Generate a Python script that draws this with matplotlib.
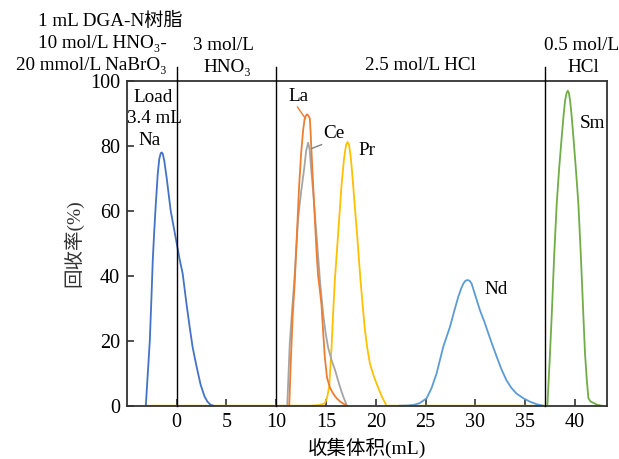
import matplotlib
matplotlib.use("Agg")
import matplotlib.pyplot as plt

plt.rcParams['font.family'] = ['Liberation Serif', 'Noto Sans CJK SC', 'DejaVu Sans']

# ---- data ----
na_x = [-3.1, -2.9, -2.7, -2.55, -2.4, -2.25, -2.1, -1.9, -1.75, -1.6, -1.5, -1.4, -1.25, -1.0, -0.8,
        -0.6, -0.3, 0.0, 0.3, 0.6, 1.0, 1.3, 1.6, 2.0, 2.4, 2.8, 3.1, 3.4, 3.7]
na_y = [0, 10, 20, 32, 45, 54, 62, 71.5, 76, 77.8, 78, 77.6, 75.5, 70, 65,
        60, 55, 50, 45, 40.7, 31, 24.3, 18, 12, 6.5, 2.8, 1.2, 0.3, 0]

la_x = [11.3, 11.45, 11.65, 11.85, 12.0, 12.15, 12.3, 12.5, 12.7, 12.85, 13.0, 13.1, 13.22, 13.37,
        13.45, 13.54, 13.7, 13.87, 14.05, 14.2, 14.38, 14.54, 14.7, 14.87, 15.1, 15.4, 15.7, 16.0,
        16.4, 17.05]
la_y = [0, 13, 28, 38, 48, 58, 68, 78, 85, 88.4, 89.5, 89.7, 89.4, 88.4,
        84, 78, 68, 57.7, 47, 40, 35.5, 31, 23, 15, 8.5, 5.5, 3.8, 2.5,
        1.3, 0]

ce_x = [11.1, 11.35, 11.6, 11.8, 12.0, 12.2, 12.5, 12.8, 13.0, 13.2, 13.35, 13.5, 13.7, 13.9, 14.15,
        14.4, 14.7, 14.95, 15.2, 15.55, 15.9, 16.2, 16.5, 16.8, 17.1]
ce_y = [0, 19, 30, 38, 48, 58, 66, 73, 78.5, 81, 79, 73, 66, 58, 48,
        38, 28.4, 22.5, 18, 14, 11, 7.8, 4.8, 2.2, 0]

pr_x = [-3.1, 13.4, 14.3, 14.87, 15.1, 15.31, 15.55, 15.7, 15.88, 16.05, 16.2, 16.55, 16.8, 17.0,
        17.15, 17.3, 17.5, 17.72, 17.92, 18.12, 18.3, 18.46, 18.7, 18.9, 19.15, 19.4, 19.8, 20.2,
        20.6, 21.07, 37.0]
pr_y = [0, 0, 0.2, 0.7, 2.5, 5.8, 18, 28, 38.6, 46, 52.5, 67.9, 76, 80.2,
        81.2, 80.5, 76, 67.9, 60, 52.5, 45, 38.6, 30, 23.3, 17.5, 13, 9, 5.8,
        2.8, 0, 0]

nd_x = [22.4, 23.1, 23.75, 24.4, 25.1, 25.6, 26.1, 26.77, 27.44, 27.9, 28.27, 28.55, 28.8, 29.0,
        29.2, 29.4, 29.6, 30.0, 30.45, 30.9, 31.29, 31.7, 32.13, 32.6, 33.1, 33.6, 34.1, 34.8,
        35.5, 36.2, 36.8]
nd_y = [0, 0.05, 0.2, 0.8, 2.3, 5.5, 10, 18.2, 24.3, 29.5, 33.5, 36, 37.7, 38.5,
        38.7, 38.5, 37.7, 33.8, 29.4, 25.8, 22.3, 18.7, 15.1, 11.3, 7.9, 5.5, 3.8, 2.3,
        1.2, 0.4, 0]

sm_x = [37.22, 37.45, 37.66, 37.9, 38.16, 38.4, 38.66, 38.85, 39.0, 39.15, 39.27, 39.38, 39.5,
        39.65, 39.83, 40.08, 40.33, 40.6, 40.83, 41.0, 41.18, 41.34, 41.55, 41.84, 42.2, 42.68]
sm_y = [0, 14, 28, 46, 62.3, 73, 82.8, 89.5, 94, 96.3, 97, 96.3, 94,
        89.5, 82.8, 73, 62.3, 45, 28, 16, 7.9, 2.3, 1.3, 0.9, 0.3, 0]

x_ticks = [0, 5, 10, 15, 20, 25, 30, 35, 40]
y_ticks = [0, 20, 40, 60, 80, 100]
dividers = [0, 10, 37]

colors = {'Na': '#4472C4', 'La': '#ED7D31', 'Ce': '#A5A5A5',
          'Pr': '#FFC000', 'Nd': '#5B9BD5', 'Sm': '#70AD47'}

fig = plt.figure(figsize=(6.19, 4.59), dpi=100)
ax = fig.add_axes([0.205, 0.1161, 0.7755, 0.7074])

lw = 1.3
ax.plot(pr_x, pr_y, color=colors['Pr'], lw=lw)
ax.plot(nd_x, nd_y, color=colors['Nd'], lw=lw)
ax.plot(ce_x, ce_y, color=colors['Ce'], lw=lw)
ax.plot(la_x, la_y, color=colors['La'], lw=lw)
ax.plot(na_x, na_y, color=colors['Na'], lw=lw)
ax.plot(sm_x, sm_y, color=colors['Sm'], lw=lw)

for d in dividers:
    ax.plot([d, d], [0, 104.4], color='black', lw=1.0, clip_on=False, zorder=5)

ax.set_xlim(-5, 43.2)
ax.set_ylim(0, 100)
ax.set_xticks(x_ticks)
ax.set_yticks(y_ticks)
ax.tick_params(direction='in', length=5, width=1.2, labelsize=14.5, color='#333333', pad=5)
for s in ax.spines.values():
    s.set_linewidth(1.3)
    s.set_color('#333333')

ax.set_xlabel('收集体积(mL)', fontsize=14, labelpad=4)
ax.set_ylabel('回收率(%)', fontsize=14, labelpad=5, color='#333333')

fs = 13.8
# in-plot labels
ax.text(-2.4, 95, 'Load', ha='center', va='center', fontsize=fs)
ax.text(-2.2, 88.4, '3.4 mL', ha='center', va='center', fontsize=fs)
ax.text(-2.7, 81.7, 'Na', ha='center', va='center', fontsize=fs)
ax.text(12.23, 95.2, 'La', ha='center', va='center', fontsize=fs)
ax.plot([12.13, 12.93], [92.0, 88.4], color=colors['La'], lw=1.0)
ax.text(15.78, 83.8, 'Ce', ha='center', va='center', fontsize=fs)
ax.plot([14.54, 13.54], [80.4, 79.2], color='#808080', lw=1.0)
ax.text(19.1, 78.6, 'Pr', ha='center', va='center', fontsize=fs)
ax.text(32.1, 35.9, 'Nd', ha='center', va='center', fontsize=fs)
ax.text(41.7, 87, 'Sm', ha='center', va='center', fontsize=fs)

# header labels (figure pixel coords converted)
W, H = 619, 459
def ftext(px, py, s):
    fig.text(px / W, 1 - py / H, s, ha='center', va='center', fontsize=fs)

ftext(110, 21, '1 mL DGA-N树脂')
ftext(102, 44, '10 mol/L HNO₃-')
ftext(91, 66, '20 mmol/L NaBrO₃')
ftext(223, 45, '3 mol/L')
ftext(227, 67, 'HNO₃')
ftext(420, 66, '2.5 mol/L HCl')
ftext(582, 45, '0.5 mol/L')
ftext(583, 67, 'HCl')

fig.savefig('out.png', dpi=100)
